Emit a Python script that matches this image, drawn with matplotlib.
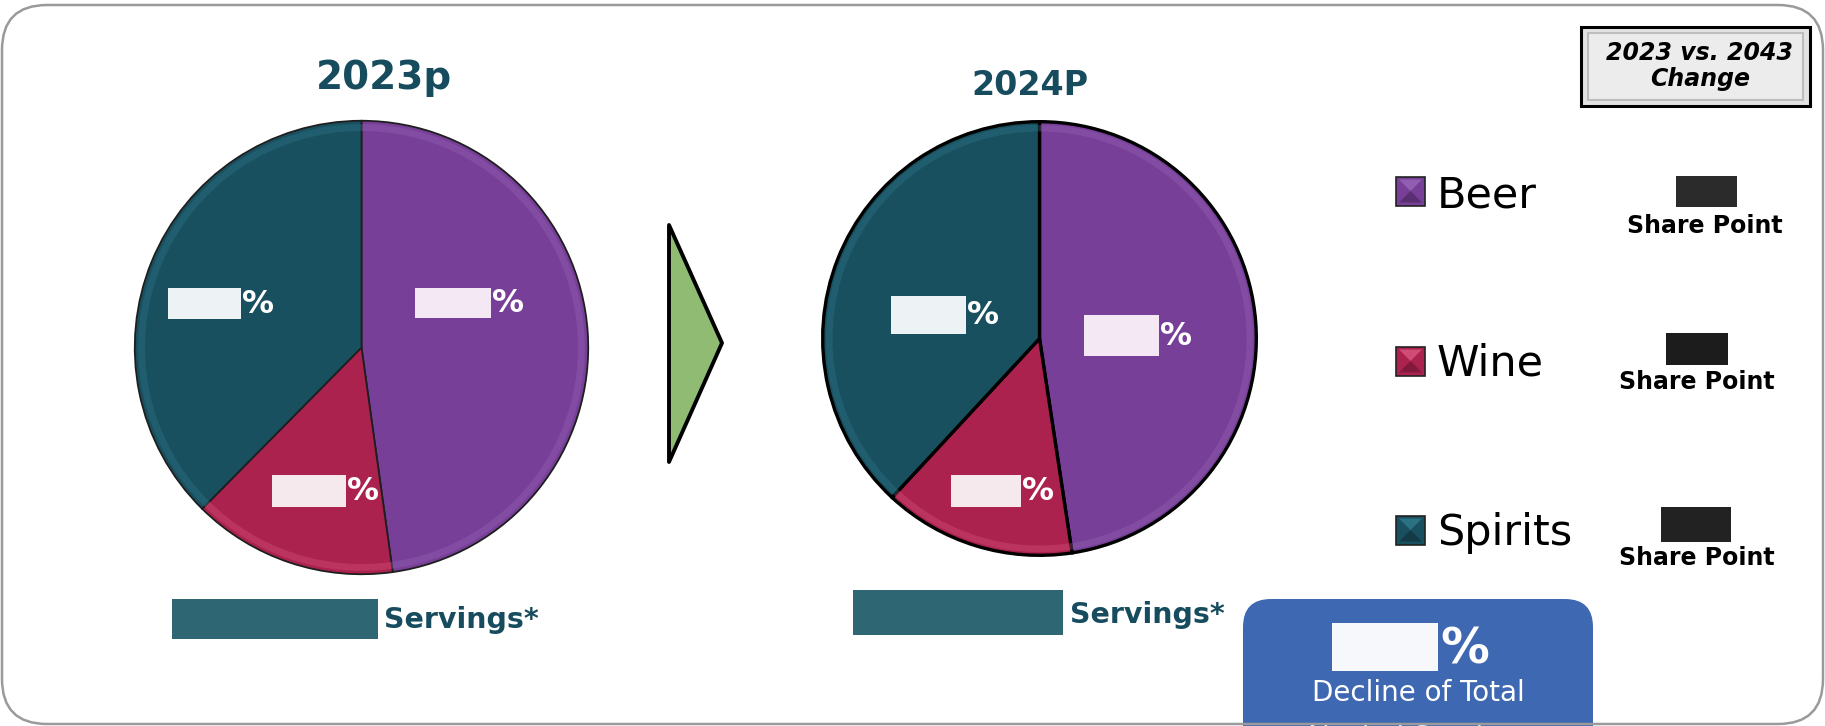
#!/usr/bin/env python3
"""Beverage alcohol share of servings, 2023p vs 2024P (pie pair with legend panel)."""
import matplotlib
matplotlib.use("Agg")
import matplotlib.pyplot as plt
from matplotlib.patches import FancyBboxPatch, Polygon, Rectangle, Wedge

W, H = 1825, 726

categories = ["Beer", "Wine", "Spirits"]
share_2023 = [47.8, 14.6, 37.6]
share_2024 = [47.6, 14.3, 38.1]
titles = ["2023p", "2024P"]
colors = ["#773f98", "#ac224f", "#19505f"]
rim_colors = ["#9a66b8", "#d9587f", "#2f7a8e"]

TEAL = "#174c5e"

fig = plt.figure(figsize=(W / 100, H / 100), dpi=100)
fig.patch.set_facecolor("white")


def pie_axes(cx, cy, r):
  return fig.add_axes([(cx - r) / W, (H - cy - r) / H, 2 * r / W, 2 * r / H], zorder=1)


def draw_pie(axis, values, edge, lw):
  wedges, _ = axis.pie(
    values,
    colors=colors,
    startangle=90,
    counterclock=False,
    wedgeprops=dict(edgecolor=edge, linewidth=lw),
  )
  # soft bevel rim along the outer edge of every wedge
  for wedge, rim in zip(wedges, rim_colors):
    axis.add_patch(Wedge((0, 0), 0.985, wedge.theta1, wedge.theta2, width=0.03,
                         facecolor=rim, edgecolor="none", alpha=0.35))
  axis.set_xlim(-1.01, 1.01)
  axis.set_ylim(-1.01, 1.01)
  axis.set_aspect("equal")
  axis.axis("off")


draw_pie(pie_axes(361.5, 347.5, 229), share_2023, "#1e1e1e", 1.3)
draw_pie(pie_axes(1039.5, 338.5, 219), share_2024, "black", 2.4)

# overlay in pixel coordinates
ax = fig.add_axes([0, 0, 1, 1], zorder=3)
ax.set_xlim(0, W)
ax.set_ylim(H, 0)
ax.patch.set_visible(False)
ax.axis("off")

# outer frame
ax.add_patch(FancyBboxPatch((2, 5), W - 4, H - 7, boxstyle="round,pad=0,rounding_size=45",
                            facecolor="none", edgecolor="#9a9a9a", linewidth=1.8,
                            zorder=10, clip_on=False))

# titles
ax.text(384, 89, titles[0], ha="center", va="baseline", fontsize=28,
        fontweight="bold", color=TEAL)
ax.text(1030, 95, titles[1], ha="center", va="baseline", fontsize=24,
        fontweight="bold", color=TEAL)

# redacted pie labels: (x0, y0, x1, y1, fill)
label_boxes = [
  (168, 288, 241, 319, "#edf2f5"), (415, 288, 491, 318, "#f3e8f3"), (272, 475, 346, 507, "#f6e9ee"),
  (891, 296, 966, 334, "#edf2f5"), (1084, 315, 1159, 356, "#f3e8f3"), (951, 475, 1021, 507, "#f6e9ee"),
]
for x0, y0, x1, y1, fill in label_boxes:
  ax.add_patch(Rectangle((x0, y0), x1 - x0, y1 - y0, facecolor=fill, edgecolor="none"))
  ax.text(x1 + 1, (y0 + y1) / 2 + 1, "%", ha="left", va="center", fontsize=23,
          fontweight="bold", color="white")

# servings bars
for (x0, y0, w, h), tx, ty in [((172, 599, 206, 40), 384, 628), ((853, 590, 210, 45), 1070, 623)]:
  ax.add_patch(Rectangle((x0, y0), w, h, facecolor="#2e6674", edgecolor="none"))
  ax.text(tx, ty, "Servings*", ha="left", va="baseline", fontsize=20.5,
          fontweight="bold", color=TEAL)

# arrow
ax.add_patch(Polygon([(669, 225), (722, 343), (669, 462)], closed=True,
                     facecolor="#8fbc72", edgecolor="black", linewidth=2.8, joinstyle="round"))

# change header box
ax.add_patch(Rectangle((1581, 27), 229, 79, facecolor="#e3e3e3", edgecolor="black", linewidth=2.2))
ax.add_patch(Rectangle((1588, 33), 215, 67, facecolor="#ececec", edgecolor="#bdbdbd", linewidth=1.5))
ax.text(1700, 53, "2023 vs. 2043", ha="center", va="center", fontsize=17,
        fontweight="bold", fontstyle="italic", color="black")
ax.text(1700, 79, "Change", ha="center", va="center", fontsize=17,
        fontweight="bold", fontstyle="italic", color="black")

# legend with share point changes
legend_y = [191, 361, 530]
legend_base = [207, 376, 545]
share_x = [1705, 1697, 1697]
share_base = [233, 389, 565]
share_boxes = [(1676, 176, 61, 31, "#2b2b2b"), (1666, 333, 62, 32, "#1c1c1c"), (1661, 507, 70, 35, "#222222")]
for name, color, rim, yc, yb, sx, sb, box in zip(categories, colors, rim_colors, legend_y,
                                                 legend_base, share_x, share_base, share_boxes):
  x0, y0, s = 1396, yc - 14.5, 29
  cxm, cym = x0 + s / 2, y0 + s / 2
  ax.add_patch(Rectangle((x0, y0), s, s, facecolor=color, edgecolor="#222222", linewidth=1.2))
  ax.add_patch(Polygon([(x0 + 3, y0 + 3), (x0 + s - 3, y0 + 3), (cxm, cym)], facecolor=rim,
                       edgecolor="none", alpha=0.8))
  ax.add_patch(Polygon([(x0 + 3, y0 + s - 3), (x0 + s - 3, y0 + s - 3), (cxm, cym)],
                       facecolor="black", edgecolor="none", alpha=0.25))
  ax.text(1437, yb, name, ha="left", va="baseline", fontsize=31, color="black")
  bx, by, bw, bh, bc = box
  ax.add_patch(Rectangle((bx, by), bw, bh, facecolor=bc, edgecolor="none"))
  ax.text(sx, sb, "Share Point", ha="center", va="baseline", fontsize=17,
          fontweight="bold", color="black")

# total decline callout
ax.add_patch(FancyBboxPatch((1243, 599), 350, 200, boxstyle="round,pad=0,rounding_size=28",
                            facecolor="#3f68b2", edgecolor="none", zorder=2))
ax.add_patch(Rectangle((1332, 623), 106, 48, facecolor="#f6f8fc", edgecolor="none", zorder=3))
ax.text(1440, 649, "%", ha="left", va="center", fontsize=35, fontweight="bold",
        color="white", zorder=4)
ax.text(1418, 693, "Decline of Total", ha="center", va="center", fontsize=20,
        color="white", zorder=4)
ax.text(1418, 738, "Alcohol Servings", ha="center", va="center", fontsize=20,
        color="white", zorder=4)

fig.savefig("out.png", dpi=100)
